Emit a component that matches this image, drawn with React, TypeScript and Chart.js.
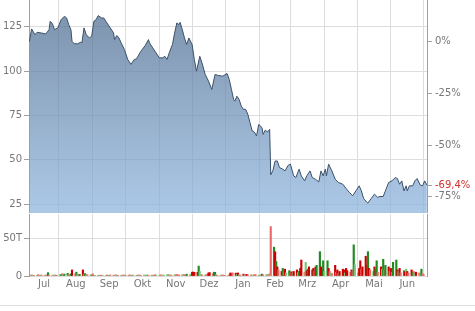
import React, { useEffect, useRef } from "react";
import { Chart, registerables } from "chart.js";
Chart.register(...registerables);

// x axis: day offset from 1 July
const X_MIN = 3.6;
const X_MAX = 368.1;
const monthStarts = [31, 62, 92, 123, 153, 184, 215, 243, 274, 304, 335, 365];
const monthLabels = ["Jul", "Aug", "Sep", "Okt", "Nov", "Dez", "Jan", "Feb", "Mrz", "Apr", "Mai", "Jun"];

const priceDays = [
  4, 6, 9, 11, 15, 19, 22, 23, 25, 27, 30, 33, 36, 38, 40, 42, 43, 45, 48, 51, 52, 54, 56, 59, 61, 63, 65, 67, 70, 72,
  74, 78, 81, 82, 84, 86, 88, 91, 94, 97, 100, 102, 106, 110, 113, 114, 117, 120, 123, 126, 128, 130, 132, 135, 137,
  139, 141, 142, 144, 146, 148, 150, 153, 155, 157, 160, 162, 165, 168, 171, 174, 177, 181, 185, 187, 189, 191, 192,
  194, 196, 198, 200, 202, 204, 206, 208, 210, 212, 214, 217, 218, 220, 222, 224, 225, 227, 229, 231, 233, 236, 238,
  241, 243, 246, 248, 251, 253, 256, 258, 261, 263, 266, 269, 271, 273, 275, 276, 278, 281, 284, 287, 291, 294, 297,
  300, 303, 306, 308, 310, 313, 314, 317, 320, 323, 325, 328, 330, 333, 336, 339, 341, 343, 345, 347, 349, 350, 352,
  355, 357, 359, 362, 364, 366, 368,
];
const prices = [
  116.6, 123.7, 120.5, 121.8, 121.4, 120.9, 123.3, 128.0, 126.7, 123.3, 124.3, 128.9, 130.8, 129.9, 126.1, 123.3, 116.7,
  115.4, 115.3, 116.2, 115.8, 124.3, 120.5, 118.6, 119.6, 128.0, 128.9, 131.2, 129.9, 129.9, 128.0, 124.3, 121.5, 117.7,
  120.0, 118.6, 115.8, 112.1, 106.5, 103.7, 106.5, 106.8, 111.1, 114.3, 117.7, 115.8, 113.0, 110.2, 107.4, 107.4, 108.3,
  106.5, 110.2, 115.0, 121.5, 127.1, 126.1, 127.4, 123.3, 118.6, 114.9, 118.6, 114.9, 106.5, 99.9, 108.3, 104.6, 98.0,
  94.3, 89.6, 98.0, 97.5, 97.1, 98.6, 95.2, 89.6, 84.0, 83.0, 85.8, 84.0, 80.2, 78.4, 78.4, 75.6, 70.9, 66.2, 65.6, 63.4,
  69.9, 68.1, 64.3, 66.7, 65.6, 67.1, 41.5, 44.0, 49.3, 49.3, 45.6, 44.7, 43.7, 46.9, 47.5, 40.9, 40.0, 44.7, 40.9, 38.1,
  40.9, 43.7, 40.0, 39.0, 37.5, 43.7, 40.9, 44.7, 40.9, 47.5, 43.7, 39.0, 37.2, 36.2, 33.8, 31.6, 29.7, 32.5, 35.3, 32.5,
  28.2, 26.0, 25.6, 28.2, 30.6, 28.8, 29.3, 29.3, 32.5, 37.2, 38.1, 40.0, 39.4, 36.2, 38.1, 32.5, 35.3, 32.5, 35.3, 35.3,
  38.1, 39.4, 35.7, 35.3, 38.1, 35.7,
];
const priceTicks = [25, 50, 75, 100, 125];
const pctTicks = [0, -25, -50, -75];

// volume in thousands, one row per trading week (5 days)
const volWeeks = [
  [1.2, 0.8, 1.5, 1.0, 0.9], [1.0, 1.8, 0.7, 1.3, 1.1], [0.9, 1.4, 1.0, 4.4, 1.2], [1.1, 0.8, 1.6, 1.0, 0.9],
  [2.0, 1.5, 3.0, 1.2, 2.5], [3.5, 2.0, 1.8, 2.8, 8.0], [3.0, 5.0, 2.5, 1.8, 2.2], [8.0, 2.5, 3.2, 1.5, 1.8],
  [1.5, 1.2, 2.8, 1.0, 0.9], [1.0, 0.8, 1.2, 0.7, 1.1], [0.9, 1.3, 0.8, 1.0, 1.4], [1.1, 0.7, 1.6, 0.9, 1.0],
  [0.8, 1.2, 1.0, 1.5, 0.9], [1.0, 1.4, 0.8, 1.1, 1.2], [0.9, 1.2, 1.5, 0.8, 1.0], [1.3, 0.9, 1.1, 1.6, 0.8],
  [1.2, 1.0, 0.9, 1.8, 1.1], [1.0, 1.5, 1.2, 0.8, 1.4], [1.6, 2.0, 1.2, 1.5, 1.0], [1.8, 1.3, 2.2, 1.0, 1.5],
  [1.4, 2.0, 1.6, 1.2, 2.4], [1.5, 2.5, 5.0, 5.2, 4.8], [5.0, 13.0, 6.0, 2.0, 1.5], [1.2, 1.8, 2.5, 4.0, 4.5],
  [3.0, 5.0, 4.8, 1.5, 1.0], [1.2, 0.8, 1.5, 1.0, 0.9], [1.0, 1.4, 4.0, 3.5, 4.2], [3.8, 2.0, 4.0, 1.5, 1.2],
  [2.5, 2.0, 1.8, 2.2, 1.5], [1.5, 1.2, 1.0, 1.8, 2.0], [1.2, 1.0, 1.5, 2.5, 1.4], [1.5, 2.0, 1.8, 3.0, 65.0],
  [38.0, 32.0, 19.0, 12.0, 8.0], [6.0, 10.0, 5.0, 9.0, 4.0], [7.0, 3.0, 5.5, 4.0, 6.0], [8.0, 4.5, 6.0, 10.0, 21.0],
  [5.0, 18.0, 7.0, 9.0, 12.0], [8.0, 10.0, 6.0, 12.0, 14.0], [32.0, 12.0, 9.0, 20.0, 6.0], [20.0, 10.0, 6.0, 4.0, 3.0],
  [14.0, 5.0, 8.0, 3.0, 6.0], [9.0, 8.0, 4.0, 10.0, 7.0], [5.0, 8.0, 6.0, 41.0, 15.0], [4.0, 10.0, 20.0, 9.0, 12.0],
  [26.0, 14.0, 32.0, 10.0, 8.0], [6.0, 12.0, 9.0, 20.0, 5.0], [12.0, 9.0, 22.0, 8.0, 14.0], [12.0, 6.0, 10.0, 5.0, 18.0],
  [21.0, 8.0, 6.0, 10.0, 4.0], [7.0, 5.0, 9.0, 6.0, 4.0], [8.0, 5.0, 6.0, 3.0, 5.0], [4.0, 3.0, 9.0, 3.0, 2.0],
];
// G dark green, g light green, R dark red, r light red
const volDir = [
  "rgrgr", "grrgr", "rgrGr", "grgrr", "gGrgG", "GrgGR", "rGgrG", "RrGgr", "gGrrg", "rgrrg", "grrgr", "rgrgr", "grrgr",
  "rrgrg", "grgrr", "ggrgr", "rgrrg", "grrgg", "ggrgr", "grrgr", "rgrrG", "rgRRR", "RGggr", "grrRR", "rGGgr", "grrgr",
  "grRRr", "RgRgr", "RrgRr", "rggrr", "grgGr", "rgrgr", "GRGRr", "RGrRg", "GrRgR", "RgGRR", "rgRGR", "GRrRG", "GRRGg",
  "GRrgr", "RrRgR", "RRgRR", "rRrGg", "gRRrR", "RRGRr", "gRGGr", "RgGrG", "RgRrG", "GRgRr", "GRgRr", "RGrgR", "rgGrr",
];
const volTicks = [0, 50];

const FONT = { family: "DejaVu Sans", size: 10 };
const TXT = "#777777";
const GRID = "#dddddd";
const AXIS = "#a0a0a0";
const VOL_COLORS: Record<string, string> = { G: "#1f8a1f", g: "#78c878", R: "#cc0000", r: "#ee6a6a" };

const PRICE_MIN = 20;
const PRICE_MAX = 140;
const VOL_MAX = 81.6;

export default function App() {
  const priceRef = useRef<HTMLCanvasElement>(null);
  const volRef = useRef<HTMLCanvasElement>(null);

  useEffect(() => {
    const base = prices[0];
    const lastPct = (prices[prices.length - 1] / base - 1) * 100;
    const pctTickVals = [...pctTicks, lastPct];

    const pc = priceRef.current!;
    const ctx = pc.getContext("2d")!;
    const grad = ctx.createLinearGradient(0, 0, 0, pc.height);
    grad.addColorStop(0, "rgba(72,102,138,0.72)");
    grad.addColorStop(1, "rgba(140,180,222,0.72)");

    const monthGrid = (s: any) => {
      s.ticks = monthStarts.map((v) => ({ value: v }));
    };

    const priceChart = new Chart(pc, {
      type: "line",
      data: {
        datasets: [
          {
            data: priceDays.map((d, i) => ({ x: d, y: prices[i] })),
            borderColor: "#3b5068",
            borderWidth: 1,
            pointRadius: 0,
            fill: "start",
            backgroundColor: grad,
            tension: 0,
          },
        ],
      },
      options: {
        animation: false,
        responsive: false,
        maintainAspectRatio: false,
        events: [],
        plugins: { legend: { display: false }, tooltip: { enabled: false } },
        layout: { padding: 0 },
        scales: {
          x: {
            type: "linear",
            min: X_MIN,
            max: X_MAX,
            offset: false,
            afterBuildTicks: monthGrid,
            ticks: { display: false },
            grid: { color: GRID, drawTicks: false, offset: false },
            border: { display: false },
          },
          y: {
            position: "left",
            min: PRICE_MIN,
            max: PRICE_MAX,
            afterBuildTicks: (s: any) => {
              s.ticks = priceTicks.map((v) => ({ value: v }));
            },
            afterFit: (s: any) => {
              s.width = 29;
              s.paddingTop = 0;
              s.paddingBottom = 0;
            },
            ticks: { color: TXT, font: FONT, padding: 2 },
            grid: { color: GRID, tickLength: 5, tickColor: AXIS },
            border: { color: AXIS },
          },
          y2: {
            position: "right",
            min: (PRICE_MIN / base - 1) * 100,
            max: (PRICE_MAX / base - 1) * 100,
            afterBuildTicks: (s: any) => {
              s.ticks = pctTickVals.map((v) => ({ value: v }));
            },
            afterFit: (s: any) => {
              s.width = 48;
              s.paddingTop = 0;
              s.paddingBottom = 0;
            },
            ticks: {
              font: FONT,
              padding: 3,
              color: (c: any) => (Math.abs(c.tick.value - lastPct) < 1e-6 ? "#d0312d" : TXT),
              callback: (v: any) => {
                if (Math.abs(v - lastPct) < 1e-6) return lastPct.toFixed(1).replace(".", ",") + "%";
                return v + "%";
              },
            },
            grid: { drawOnChartArea: false, tickLength: 5, color: AXIS },
            border: { color: AXIS },
          },
        },
      },
    });

    const volPoints: { x: number; y: number }[] = [];
    const volColors: string[] = [];
    volWeeks.forEach((week, k) => {
      week.forEach((v, j) => {
        volPoints.push({ x: 4 + 7 * k + j, y: v });
        volColors.push(VOL_COLORS[volDir[k][j]]);
      });
    });

    const monthMids = monthStarts.map((m, i) => {
      const start = i === 0 ? X_MIN : monthStarts[i - 1];
      const end = Math.min(m, X_MAX);
      return (start + end) / 2;
    });

    const volChart = new Chart(volRef.current!, {
      type: "bar",
      data: {
        datasets: [
          {
            data: volPoints as any,
            backgroundColor: volColors,
            borderWidth: 0,
            barThickness: 1.5,
            xAxisID: "x",
            yAxisID: "y",
          },
        ],
      },
      options: {
        animation: false,
        responsive: false,
        maintainAspectRatio: false,
        events: [],
        plugins: { legend: { display: false }, tooltip: { enabled: false } },
        layout: { padding: { top: 1, left: 0, right: 0, bottom: 0 } },
        scales: {
          x: {
            type: "linear",
            min: X_MIN,
            max: X_MAX,
            offset: false,
            afterBuildTicks: monthGrid,
            ticks: { display: false },
            grid: { color: GRID, drawTicks: false, offset: false },
            border: { display: false },
          },
          xl: {
            type: "linear",
            position: "bottom",
            axis: "x",
            min: X_MIN,
            max: X_MAX,
            offset: false,
            afterBuildTicks: (s: any) => {
              s.ticks = monthMids.map((v) => ({ value: v }));
            },
            afterFit: (s: any) => {
              s.height = 29;
              s.paddingLeft = 0;
              s.paddingRight = 0;
            },
            ticks: {
              color: TXT,
              font: FONT,
              padding: 2,
              maxRotation: 0,
              autoSkip: false,
              callback: (_v: any, i: number) => monthLabels[i],
            },
            grid: { display: false, drawTicks: false, offset: false },
            border: { display: false },
          },
          y: {
            position: "left",
            min: 0,
            max: VOL_MAX,
            afterBuildTicks: (s: any) => {
              s.ticks = volTicks.map((v) => ({ value: v }));
            },
            afterFit: (s: any) => {
              s.width = 29;
              s.paddingTop = 0;
              s.paddingBottom = 0;
            },
            ticks: {
              color: TXT,
              font: FONT,
              padding: 2,
              callback: (v: any) => (v === 0 ? "0" : v + "T"),
            },
            grid: { color: GRID, tickLength: 5, tickColor: AXIS },
            border: { color: AXIS },
          },
          yr: {
            position: "right",
            axis: "y",
            afterFit: (s: any) => {
              s.width = 48;
              s.paddingTop = 0;
              s.paddingBottom = 0;
            },
            ticks: { display: false },
            grid: { drawOnChartArea: false, drawTicks: false },
            border: { color: AXIS },
          },
        },
      },
    });

    return () => {
      priceChart.destroy();
      volChart.destroy();
    };
  }, []);

  return (
    <div style={{ position: "absolute", left: 0, top: 0, width: 475, height: 311, background: "#ffffff", overflow: "hidden" }}>
      <canvas ref={priceRef} width={475} height={213} style={{ position: "absolute", left: 0, top: 0, display: "block" }} />
      <canvas ref={volRef} width={475} height={92} style={{ position: "absolute", left: 0, top: 213, display: "block" }} />
      <div style={{ position: "absolute", left: 0, top: 305, width: 475, height: 1, background: "#dddddd" }} />
    </div>
  );
}
